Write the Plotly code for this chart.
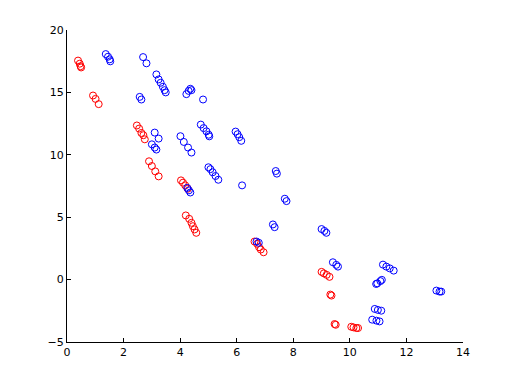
import plotly.graph_objects as go

# red series
red_x = [0.39, 0.45, 0.48, 0.50,
         0.92, 1.01, 1.12,
         2.47, 2.55, 2.63, 2.70, 2.75,
         2.90, 3.00, 3.12, 3.24,
         4.03, 4.10, 4.18, 4.27,
         4.20, 4.32, 4.40, 4.45, 4.51, 4.57,
         6.63, 6.72, 6.79, 6.85, 6.95,
         9.00, 9.08, 9.18, 9.28,
         9.31, 9.35,
         9.46, 9.50,
         10.05, 10.13, 10.23, 10.29]
red_y = [17.55, 17.3, 17.1, 17.0,
         14.75, 14.48, 14.06,
         12.35, 12.1, 11.75, 11.57, 11.24,
         9.48, 9.1, 8.67, 8.27,
         7.95, 7.77, 7.55, 7.28,
         5.14, 4.87, 4.55, 4.28, 4.02, 3.75,
         3.05, 2.87, 2.6, 2.41, 2.19,
         0.62, 0.5, 0.38, 0.22,
         -1.2, -1.28,
         -3.56, -3.62,
         -3.78, -3.83, -3.88, -3.88]

# blue series
blue_x = [1.37, 1.45, 1.51, 1.53,
          2.69, 2.81,
          2.57, 2.63,
          3.16, 3.24, 3.31, 3.39, 3.45, 3.49,
          4.22, 4.30, 4.36, 4.40,
          4.81,
          3.10, 3.24,
          3.00, 3.10, 3.16,
          4.01, 4.13, 4.28, 4.40,
          4.73, 4.83, 4.93, 5.01, 5.03,
          5.96, 6.03, 6.09, 6.16,
          5.00, 5.07, 5.15, 5.25, 5.35,
          4.25, 4.31, 4.36,
          6.19,
          7.38, 7.42,
          7.70, 7.76,
          7.28, 7.34,
          9.00, 9.10, 9.17,
          6.70, 6.78,
          9.40, 9.52, 9.58,
          11.17, 11.29, 11.41, 11.55,
          10.93, 10.97, 11.08, 11.13,
          13.06, 13.17, 13.23,
          10.88, 10.99, 11.11,
          10.79, 10.94, 11.05]
blue_y = [18.07, 17.86, 17.65, 17.49,
          17.83, 17.33,
          14.64, 14.43,
          16.44, 16.04, 15.77, 15.45, 15.18, 15.0,
          14.86, 15.12, 15.29, 15.18,
          14.43,
          11.78, 11.30,
          10.84, 10.58, 10.42,
          11.49, 11.03, 10.58, 10.18,
          12.42, 12.14, 11.88, 11.61, 11.48,
          11.86, 11.65, 11.41, 11.12,
          9.0, 8.85, 8.6, 8.3, 8.0,
          7.35, 7.15, 6.98,
          7.55,
          8.70, 8.49,
          6.48, 6.29,
          4.42, 4.2,
          4.05, 3.9, 3.75,
          3.05, 2.95,
          1.39, 1.18, 1.04,
          1.20, 1.04, 0.90, 0.72,
          -0.35, -0.3, -0.12, -0.02,
          -0.88, -0.96, -0.96,
          -2.35, -2.43, -2.49,
          -3.21, -3.29, -3.35]

x_ticks = [0, 2, 4, 6, 8, 10, 12, 14]
y_ticks = [-5, 0, 5, 10, 15, 20]

fig = go.Figure()
fig.add_trace(go.Scatter(
    x=red_x, y=red_y, mode='markers',
    marker=dict(symbol='circle-open', size=7, color='#ff0000', line=dict(width=1)),
))
fig.add_trace(go.Scatter(
    x=blue_x, y=blue_y, mode='markers',
    marker=dict(symbol='circle-open', size=7, color='#0000ff', line=dict(width=1)),
))

axis_style = dict(
    showgrid=False, zeroline=False, showline=True, linecolor='black', linewidth=1,
    ticks='inside', ticklen=4, tickcolor='black', mirror=False,
    tickfont=dict(family='DejaVu Sans', size=11, color='black'),
)
fig.update_xaxes(range=[0, 14], tickvals=x_ticks, **axis_style)
fig.update_yaxes(range=[-5, 20], tickvals=y_ticks, **axis_style)

# page body has an 8px margin, so the figure is 8px smaller and left/top margins shifted
fig.update_layout(
    width=504, height=376,
    margin=dict(l=59, r=49, t=22, b=42),
    plot_bgcolor='white', paper_bgcolor='white',
    showlegend=False,
)

fig.write_html("out.html")
